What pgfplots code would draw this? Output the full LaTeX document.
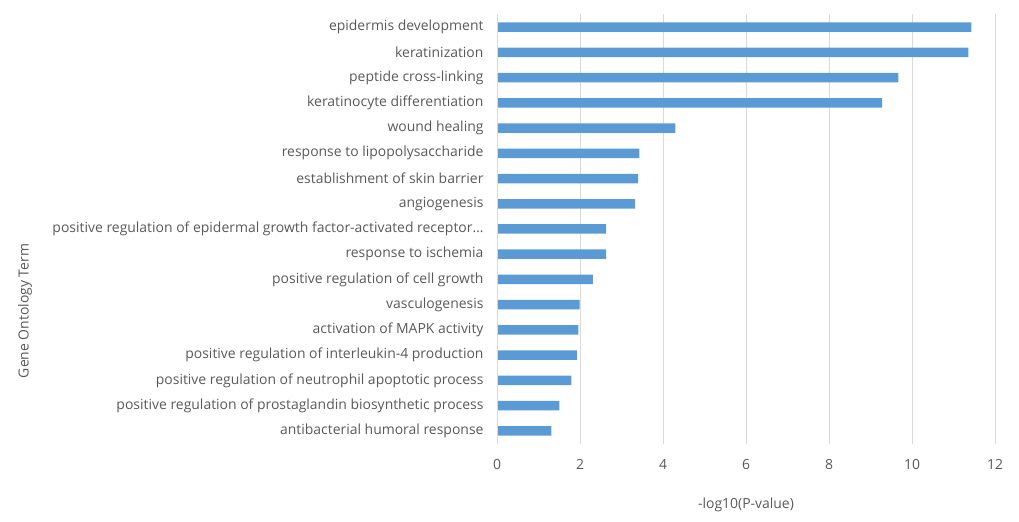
\documentclass[border=0pt]{standalone}
\usepackage{pgfplots}
\pgfplotsset{compat=1.18}
\usepackage{pgfplotstable}
\usepackage{fontspec}
\setmainfont{Open Sans}
\definecolor{barblue}{HTML}{5B9BD5}
\definecolor{txtgray}{HTML}{595959}
\definecolor{gridgray}{HTML}{D9D9D9}
\pgfplotstableread{
idx value
0 1.31
1 1.50
2 1.79
3 1.93
4 1.96
5 1.99
6 2.31
7 2.63
8 2.63
9 3.33
10 3.40
11 3.43
12 4.30
13 9.28
14 9.67
15 11.36
16 11.43
}\godata
\begin{document}
\begin{tikzpicture}
\path[use as bounding box] (0,0) rectangle (1019bp,522bp);
\begin{axis}[
  at={(497bp,78.4bp)}, anchor=south west,
  scale only axis,
  width=498bp, height=429.2bp,
  xbar, bar width=9.5bp,
  xmin=0, xmax=12,
  ymin=-0.5, ymax=16.5,
  xtick={0,2,...,12},
  ytick={0,...,16},
  yticklabels={antibacterial humoral response,
    positive regulation of prostaglandin biosynthetic process,
    positive regulation of neutrophil apoptotic process,
    positive regulation of interleukin-4 production,
    activation of MAPK activity,
    vasculogenesis,
    positive regulation of cell growth,
    response to ischemia,
    positive regulation of epidermal growth factor-activated receptor…,
    angiogenesis,
    establishment of skin barrier,
    response to lipopolysaccharide,
    wound healing,
    keratinocyte differentiation,
    peptide cross-linking,
    keratinization,
    epidermis development},
  xmajorgrids, grid style={gridgray, line width=0.8bp},
  axis line style={draw=none},
  axis x line*=bottom, axis y line*=left,
  major tick length=0pt,
  tick style={draw=none},
  ticklabel style={font=\fontsize{14}{16}\selectfont, text=txtgray},
  /pgf/number format/assume math mode=true,
  xticklabel style={yshift=-12bp},
  yticklabel style={xshift=-10bp},
  xlabel={-log10(P-value)},
  xlabel style={font=\fontsize{14}{16}\selectfont, text=txtgray, yshift=-22bp},
  clip=false,
]
\addplot[fill=barblue, draw=none] table[x=value, y=idx] {\godata};
\draw[gridgray, line width=0.8bp] (axis cs:0,-0.5) -- (axis cs:0,16.5);
\end{axis}
\node[rotate=90, text=txtgray, font=\fontsize{14}{16}\selectfont] at (25bp,211bp) {Gene Ontology Term};
\end{tikzpicture}
\end{document}
